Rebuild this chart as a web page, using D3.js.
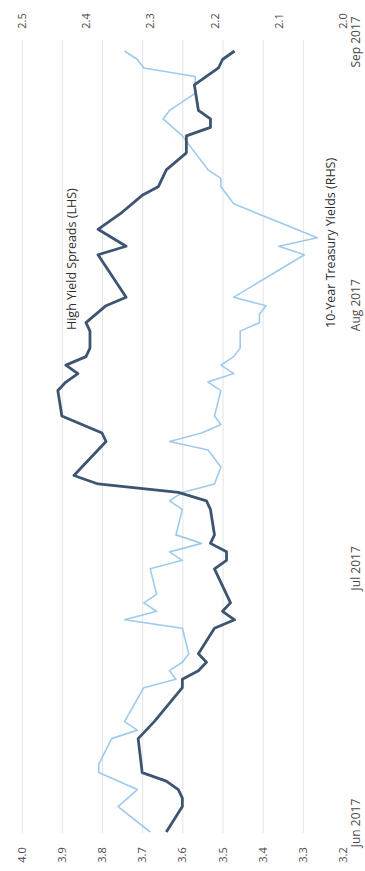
<!DOCTYPE html>
<html>
<head>
<meta charset="utf-8">
<script src="https://cdn.jsdelivr.net/npm/d3@7"></script>
<style>
  html, body { margin: 0; padding: 0; background: #fff; }
  svg { display: block; }
  text { font-family: "Open Sans", "DejaVu Sans", sans-serif; }
</style>
</head>
<body>
<svg id="chart" width="365" height="871"></svg>
<script>
// High yield spreads (left axis, %) — daily observations
const hyDates = ["2017-05-31","2017-06-03","2017-06-04","2017-06-05","2017-06-06","2017-06-07","2017-06-11","2017-06-13","2017-06-17","2017-06-18","2017-06-19","2017-06-20","2017-06-21","2017-06-24","2017-06-25","2017-06-26","2017-06-27","2017-07-01","2017-07-02","2017-07-03","2017-07-04","2017-07-05","2017-07-08","2017-07-09","2017-07-10","2017-07-11","2017-07-12","2017-07-16","2017-07-17","2017-07-19","2017-07-22","2017-07-23","2017-07-24","2017-07-25","2017-07-26","2017-07-27","2017-07-29","2017-07-30","2017-08-01","2017-08-02","2017-08-07","2017-08-08","2017-08-10","2017-08-12","2017-08-14","2017-08-15","2017-08-16","2017-08-17","2017-08-19","2017-08-21","2017-08-22","2017-08-23","2017-08-24","2017-08-27","2017-08-29","2017-08-30","2017-08-31"];
const hySpread = [3.64,3.60,3.60,3.61,3.64,3.70,3.71,3.67,3.60,3.60,3.56,3.54,3.56,3.52,3.47,3.50,3.48,3.52,3.49,3.49,3.53,3.52,3.53,3.54,3.61,3.81,3.87,3.79,3.80,3.90,3.91,3.89,3.86,3.89,3.84,3.83,3.83,3.84,3.79,3.74,3.81,3.74,3.81,3.75,3.70,3.66,3.65,3.64,3.59,3.59,3.53,3.53,3.56,3.57,3.51,3.50,3.47];

// 10-year Treasury yields (right axis, %)
const tyDates = ["2017-05-31","2017-06-03","2017-06-05","2017-06-07","2017-06-08","2017-06-11","2017-06-12","2017-06-13","2017-06-17","2017-06-18","2017-06-19","2017-06-20","2017-06-21","2017-06-24","2017-06-25","2017-06-26","2017-06-27","2017-06-28","2017-07-01","2017-07-02","2017-07-03","2017-07-04","2017-07-05","2017-07-08","2017-07-09","2017-07-10","2017-07-11","2017-07-13","2017-07-15","2017-07-16","2017-07-17","2017-07-18","2017-07-19","2017-07-22","2017-07-23","2017-07-24","2017-07-25","2017-07-26","2017-07-27","2017-07-29","2017-07-30","2017-07-31","2017-08-01","2017-08-02","2017-08-07","2017-08-08","2017-08-09","2017-08-13","2017-08-15","2017-08-16","2017-08-17","2017-08-19","2017-08-21","2017-08-23","2017-08-24","2017-08-26","2017-08-27","2017-08-28","2017-08-29","2017-08-30","2017-08-31"];
const tyYield = [2.30,2.35,2.32,2.38,2.38,2.36,2.32,2.34,2.31,2.26,2.27,2.25,2.24,2.25,2.34,2.29,2.31,2.29,2.30,2.25,2.27,2.22,2.26,2.25,2.27,2.25,2.20,2.19,2.21,2.27,2.22,2.19,2.20,2.19,2.21,2.17,2.19,2.17,2.16,2.16,2.13,2.13,2.12,2.17,2.06,2.10,2.04,2.17,2.19,2.19,2.21,2.23,2.25,2.28,2.27,2.23,2.23,2.23,2.31,2.32,2.34];

// Axis ticks
const lhsTicks = [3.2,3.3,3.4,3.5,3.6,3.7,3.8,3.9,4.0];
const rhsTicks = [2.0,2.1,2.2,2.3,2.4,2.5];
const gridTicks = [3.3,3.4,3.5,3.6,3.7,3.8,3.9,4.0];
const monthTicks = ["2017-06-01","2017-07-01","2017-08-01","2017-09-01"];
const monthLabels = ["Jun 2017","Jul 2017","Aug 2017","Sep 2017"];

const seriesNames = ["High Yield Spreads (LHS)", "10-Year Treasury Yields (RHS)"];
const seriesColors = ["#3d5570", "#9fcaee"];

const parse = d3.timeParse("%Y-%m-%d");

// The chart is laid out in its own frame (time across, values up)
// and then turned a quarter turn so time runs bottom to top.
const FW = 871, FH = 365;
const svg = d3.select("#chart");
const g = svg.append("g").attr("transform", `translate(0,${FW}) rotate(-90)`);

const x = d3.scaleTime()
  .domain([parse("2017-05-31"), parse("2017-08-31")])
  .range([39, 820]);
const yL = d3.scaleLinear().domain([3.2, 4.0]).range([343, 21.7]);
const yR = d3.scaleLinear().domain([2.0, 2.5]).range([343, 21.7]);

// Gridlines on the left-axis ticks
const grid = g.append("g")
  .attr("transform", "translate(38,0)")
  .call(d3.axisLeft(yL).tickValues(gridTicks).tickSize(-(831 - 38)).tickFormat(""));
grid.select(".domain").remove();
grid.selectAll(".tick line").attr("stroke", "#e4e4e4").attr("stroke-width", 1);

// Left axis labels
const axL = g.append("g")
  .attr("transform", "translate(16,0)")
  .call(d3.axisLeft(yL).tickValues(lhsTicks).tickFormat(d3.format(".1f")).tickSize(0).tickPadding(0));
axL.select(".domain").remove();
axL.selectAll("text")
  .attr("x", 0).attr("text-anchor", "middle")
  .attr("fill", "#4a4a4a").style("font-size", "11px");

// Right axis labels
const axR = g.append("g")
  .attr("transform", "translate(850,0)")
  .call(d3.axisRight(yR).tickValues(rhsTicks).tickFormat(d3.format(".1f")).tickSize(0).tickPadding(0));
axR.select(".domain").remove();
axR.selectAll("text")
  .attr("x", 0).attr("text-anchor", "middle")
  .attr("fill", "#4a4a4a").style("font-size", "11px");

// Month labels
const axX = g.append("g")
  .attr("transform", "translate(0,360)")
  .call(d3.axisBottom(x).tickValues(monthTicks.map(parse))
    .tickFormat((d, i) => monthLabels[i]).tickSize(0).tickPadding(0));
axX.select(".domain").remove();
axX.selectAll("text")
  .attr("y", 0).attr("dy", 0)
  .attr("fill", "#4a4a4a").style("font-size", "12px");

// Lines
const hyData = hyDates.map((d, i) => ({ date: parse(d), v: hySpread[i] }));
const tyData = tyDates.map((d, i) => ({ date: parse(d), v: tyYield[i] }));

g.append("path")
  .datum(tyData)
  .attr("fill", "none")
  .attr("stroke", seriesColors[1])
  .attr("stroke-width", 1.6)
  .attr("stroke-linejoin", "round")
  .attr("d", d3.line().x(d => x(d.date)).y(d => yR(d.v)));

g.append("path")
  .datum(hyData)
  .attr("fill", "none")
  .attr("stroke", seriesColors[0])
  .attr("stroke-width", 2.8)
  .attr("stroke-linejoin", "round")
  .attr("d", d3.line().x(d => x(d.date)).y(d => yL(d.v)));

// Series labels
g.append("text")
  .attr("x", 541).attr("y", 76)
  .attr("fill", "#2e2e2e").style("font-size", "12.5px")
  .text(seriesNames[0]);
g.append("text")
  .attr("x", 543).attr("y", 335)
  .attr("fill", "#2e2e2e").style("font-size", "12.5px")
  .text(seriesNames[1]);
</script>
</body>
</html>
